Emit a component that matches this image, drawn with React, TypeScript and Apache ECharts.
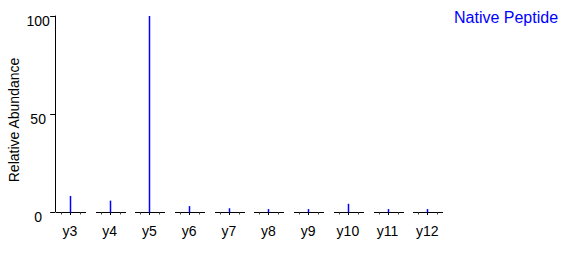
import React, { useEffect, useRef } from "react";
import * as echarts from "echarts";

const categories = ["y3", "y4", "y5", "y6", "y7", "y8", "y9", "y10", "y11", "y12"];
const abundance = [8.2, 5.8, 100, 3.0, 1.9, 1.5, 1.5, 4.2, 1.5, 1.5];
const yTicks = [0, 50, 100];
const seriesName = "Native Peptide";
const yTitle = "Relative Abundance";

const FONT = 'Arial, "Liberation Sans", sans-serif';

export default function App() {
  const ref = useRef<HTMLDivElement>(null);
  useEffect(() => {
    if (!ref.current) return;
    const chart = echarts.init(ref.current, null, { renderer: "svg" });
    const data = abundance.map((v, i) => [i, v]);
    chart.setOption({
      animation: false,
      backgroundColor: "#ffffff",
      textStyle: { fontFamily: FONT },
      grid: { left: 50.15, top: 16, width: 397, height: 196, containLabel: false },
      legend: {
        data: [{ name: seriesName, icon: "none" }],
        left: 449,
        top: 9,
        padding: 0,
        itemWidth: 0,
        itemHeight: 0,
        textStyle: { color: "#0000ff", fontSize: 16, fontFamily: FONT },
      },
      xAxis: {
        type: "category",
        data: categories,
        boundaryGap: true,
        axisLine: { show: false },
        axisTick: { show: false },
        axisLabel: { color: "#000", fontSize: 14, margin: 12, fontFamily: FONT },
        splitLine: { show: false },
      },
      yAxis: {
        type: "value",
        min: yTicks[0],
        max: yTicks[yTicks.length - 1],
        interval: 50,
        offset: -5,
        axisLine: { show: true, lineStyle: { color: "#000", width: 1 } },
        axisTick: { show: true, length: 5, lineStyle: { color: "#000" } },
        axisLabel: {
          color: "#000",
          fontSize: 14,
          fontFamily: FONT,
          align: "center",
          verticalAlign: "top",
          lineHeight: 10,
          margin: 17,
        },
        splitLine: { show: false },
      },
      graphic: [
        {
          type: "text",
          x: 14,
          y: 120,
          rotation: Math.PI / 2,
          style: {
            text: yTitle,
            fill: "#000",
            font: `14px ${FONT}`,
            align: "center",
            verticalAlign: "middle",
          },
        },
      ],
      series: [
        {
          name: seriesName,
          type: "custom",
          data,
          itemStyle: { color: "#0000ff" },
          renderItem: (params: any, api: any) => {
            const i = api.value(0);
            const v = api.value(1);
            const p0 = api.coord([i, 0]);
            const p1 = api.coord([i, v]);
            const cx = Math.round(p0[0]);
            const by = Math.round(p0[1]) + 0.5;
            const children: any[] = [
              {
                type: "line",
                shape: { x1: cx - 14, y1: by, x2: cx + 16, y2: by },
                style: { stroke: "#000", lineWidth: 1 },
              },
            ];
            [-9, 10].forEach((d) => {
              children.push({
                type: "line",
                shape: { x1: cx + d + 0.5, y1: by, x2: cx + d + 0.5, y2: by + 2 },
                style: { stroke: "#444", lineWidth: 1 },
              });
            });
            children.push({
              type: "line",
              shape: { x1: cx + 0.5, y1: by, x2: cx + 0.5, y2: by + 2.5 },
              style: { stroke: "#000", lineWidth: 1 },
            });
            children.push({
              type: "line",
              shape: { x1: cx + 0.5, y1: by, x2: cx + 0.5, y2: p1[1] },
              style: { stroke: "#0000ff", lineWidth: 1.5 },
            });
            return { type: "group", children };
          },
        },
      ],
    });
    return () => chart.dispose();
  }, []);
  return <div ref={ref} style={{ width: 572, height: 262, position: "absolute", left: 0, top: 0 }} />;
}
